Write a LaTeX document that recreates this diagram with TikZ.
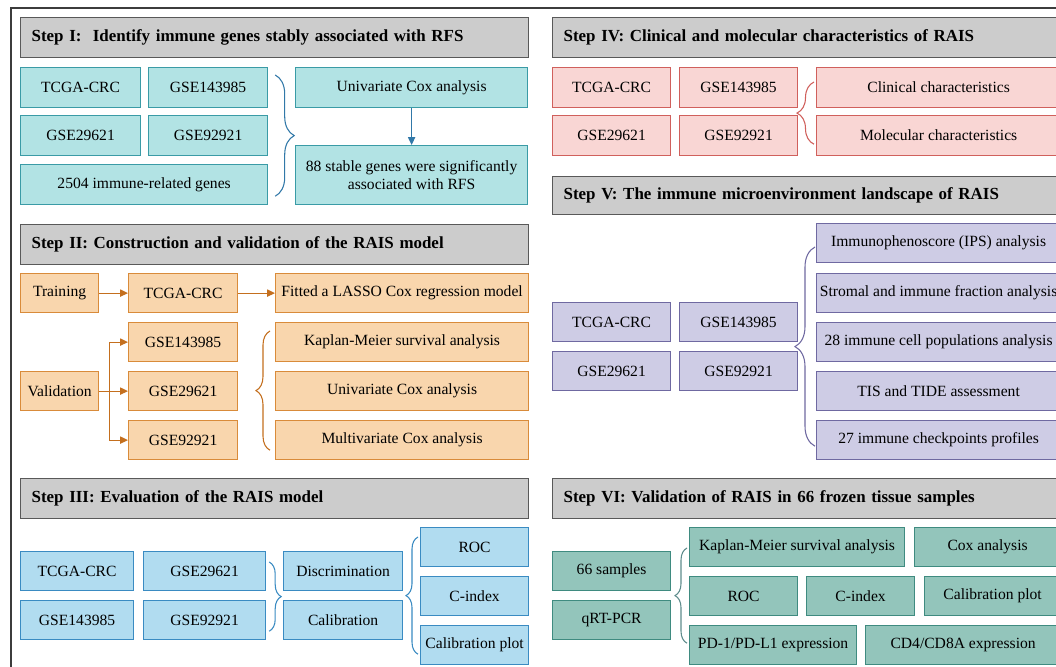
\documentclass[tikz,border=0pt]{standalone}
\usepackage{fontspec}
\setmainfont{Liberation Serif}
\usepackage{tikz}
\usetikzlibrary{arrows.meta, calc, decorations.pathreplacing}
\definecolor{hdfill}{HTML}{CCCCCC}
\definecolor{hdline}{HTML}{595959}
\definecolor{frameline}{HTML}{3C3C3C}
\definecolor{tealfill}{HTML}{B2E3E4}
\definecolor{tealline}{HTML}{3A9BA6}
\definecolor{tealarrow}{HTML}{3178A8}
\definecolor{orfill}{HTML}{F9D6AD}
\definecolor{orline}{HTML}{D98B3A}
\definecolor{orarrow}{HTML}{C46F1E}
\definecolor{bluefill}{HTML}{B1DCF0}
\definecolor{blueline}{HTML}{3A8BC2}
\definecolor{pinkfill}{HTML}{F9D6D4}
\definecolor{pinkline}{HTML}{D0605C}
\definecolor{lavfill}{HTML}{CECCE5}
\definecolor{lavline}{HTML}{6F69A1}
\definecolor{greenfill}{HTML}{93C5BB}
\definecolor{greenline}{HTML}{3F8B80}
\definecolor{greenbrace}{HTML}{5E8C8C}
\newcommand{\cell}[7]{\node[#1, anchor=north west, minimum width={(#5-#3)*0.75pt}, minimum height={(#6-#4)*0.75pt}] (#2) at (#3,#4) {#7};}
\tikzset{
  hd/.style={draw=hdline, fill=hdfill, line width=1pt, anchor=north west, inner xsep=8.25pt,
    text width=364.5pt, align=left, minimum height=30pt, font=\bfseries\fontsize{12.7}{15}\selectfont},
  cellbox/.style={draw, line width=0.9pt, inner sep=0pt, align=center, font=\fontsize{11.7}{13.8}\selectfont},
  cellI/.style={cellbox, draw=tealline, fill=tealfill},
  cellII/.style={cellbox, draw=orline, fill=orfill},
  cellIII/.style={cellbox, draw=blueline, fill=bluefill},
  cellIV/.style={cellbox, draw=pinkline, fill=pinkfill},
  cellV/.style={cellbox, draw=lavline, fill=lavfill},
  cellVI/.style={cellbox, draw=greenline, fill=greenfill},
  brc/.style 2 args={decorate, decoration={brace, amplitude=#1*0.75pt}, draw=#2, line width=0.8pt},
  arr/.style={-{Triangle[length=6pt, width=5.5pt]}, line width=0.9pt}
}
\begin{document}
\begin{tikzpicture}[x=0.75pt, y=-0.75pt]
\useasboundingbox (0,0) rectangle (1056,667);
\clip (0,0) rectangle (1056,667);
\fill[white] (0,0) rectangle (1056,667);
\draw[frameline, line width=1pt] (11,8) rectangle (1090,700);

% Step I
\node[hd] (hdI) at (20,17) {Step I:\ \ Identify immune genes stably associated with RFS};
\cell{cellI}{i_tcga}{20}{67}{140}{107}{TCGA-CRC}
\cell{cellI}{i_g143}{148}{67}{267}{107}{GSE143985}
\cell{cellI}{i_g296}{20}{115}{140}{155}{GSE29621}
\cell{cellI}{i_g929}{148}{115}{267}{155}{GSE92921}
\cell{cellI}{i_genes}{20}{164}{267}{204}{2504 immune-related genes}
\cell{cellI}{i_cox}{295}{67}{527}{107}{Univariate Cox analysis}
\cell{cellI}{i_stable}{295}{145}{527}{204}{88 stable genes were significantly\\associated with RFS}
\draw[brc={19}{tealarrow}] ($(i_g143.north east)+(7,8)$) -- ($(i_genes.south east)+(7,-9)$);
\draw[arr, tealarrow] (i_cox.south) -- (i_stable.north);

% Step II
\node[hd] (hdII) at (20,224) {Step II: Construction and validation of the RAIS model};
\cell{cellII}{ii_train}{20}{273}{98}{312}{Training}
\cell{cellII}{ii_tcga}{128}{273}{237}{312}{TCGA-CRC}
\cell{cellII}{ii_lasso}{275}{273}{528}{312}{Fitted a LASSO Cox regression model}
\cell{cellII}{ii_valid}{20}{371}{98}{410}{Validation}
\cell{cellII}{ii_g143}{128}{322}{237}{361}{GSE143985}
\cell{cellII}{ii_g296}{128}{371}{237}{410}{GSE29621}
\cell{cellII}{ii_g929}{128}{420}{237}{459}{GSE92921}
\cell{cellII}{ii_km}{275}{322}{528}{361}{Kaplan-Meier survival analysis}
\cell{cellII}{ii_cox}{275}{371}{528}{410}{Univariate Cox analysis}
\cell{cellII}{ii_mcox}{275}{420}{528}{459}{Multivariate Cox analysis}
\coordinate (ii_fork) at ($(ii_valid.east)+(10,0)$);
\draw[arr, orarrow] (ii_train) -- (ii_tcga);
\draw[arr, orarrow] (ii_tcga) -- (ii_lasso);
\draw[arr, orarrow] (ii_valid) -- (ii_g296);
\draw[arr, orarrow] (ii_fork) |- (ii_g143);
\draw[arr, orarrow] (ii_fork) |- (ii_g929);
\draw[brc={14}{orarrow}] ($(ii_mcox.south west)+(-5,-10)$) -- ($(ii_km.north west)+(-5,9)$);

% Step III
\node[hd] (hdIII) at (20,478) {Step III: Evaluation of the RAIS model};
\cell{cellIII}{iii_tcga}{20}{551}{133}{590}{TCGA-CRC}
\cell{cellIII}{iii_g296}{143}{551}{265}{590}{GSE29621}
\cell{cellIII}{iii_g143}{20}{600}{133}{639}{GSE143985}
\cell{cellIII}{iii_g929}{143}{600}{265}{639}{GSE92921}
\cell{cellIII}{iii_disc}{283}{551}{402}{590}{Discrimination}
\cell{cellIII}{iii_cal}{283}{600}{402}{639}{Calibration}
\cell{cellIII}{iii_roc}{420}{527}{528}{566}{ROC}
\cell{cellIII}{iii_cidx}{420}{576}{528}{615}{C-index}
\cell{cellIII}{iii_cplot}{420}{625}{528}{664}{Calibration plot}
\draw[brc={12}{blueline}] ($(iii_g296.north east)+(3,11)$) -- ($(iii_g929.south east)+(3,-9)$);
\draw[brc={12}{blueline}] ($(iii_cplot.south west)+(-2,-11)$) -- ($(iii_roc.north west)+(-2,10)$);

% Step IV
\node[hd] (hdIV) at (552,17) {Step IV: Clinical and molecular characteristics of RAIS};
\cell{cellIV}{iv_tcga}{552}{67}{670}{107}{TCGA-CRC}
\cell{cellIV}{iv_g143}{679}{67}{797}{107}{GSE143985}
\cell{cellIV}{iv_g296}{552}{115}{670}{155}{GSE29621}
\cell{cellIV}{iv_g929}{679}{115}{797}{155}{GSE92921}
\cell{cellIV}{iv_clin}{816}{67}{1060}{107}{Clinical characteristics}
\cell{cellIV}{iv_mol}{816}{115}{1060}{155}{Molecular characteristics}
\draw[brc={17}{pinkline}] ($(iv_mol.south west)+(-2,-12)$) -- ($(iv_clin.north west)+(-2,15)$);

% Step V
\node[hd, minimum height=28.5pt] (hdV) at (552,176) {Step V: The immune microenvironment landscape of RAIS};
\cell{cellV}{v_tcga}{552}{302}{670}{341}{TCGA-CRC}
\cell{cellV}{v_g143}{679}{302}{797}{341}{GSE143985}
\cell{cellV}{v_g296}{552}{351}{670}{390}{GSE29621}
\cell{cellV}{v_g929}{679}{351}{797}{390}{GSE92921}
\foreach \n/\t/\y in {1/Immunophenoscore (IPS) analysis/223, 2/Stromal and immune fraction analysis/273,
  3/28 immune cell populations analysis/322, 4/TIS and TIDE assessment/371, 5/27 immune checkpoints profiles/420}{
  \cell{cellV}{v_r\n}{816}{\y}{1060}{\y+39}{\t}
}
\draw[brc={20}{lavline}] ($(v_r5.south west)+(-1,-14)$) -- ($(v_r1.north west)+(-1,24)$);

% Step VI
\node[hd] (hdVI) at (552,478) {Step VI: Validation of RAIS in 66 frozen tissue samples};
\cell{cellVI}{vi_samp}{552}{551}{670}{590}{66 samples}
\cell{cellVI}{vi_pcr}{552}{600}{670}{639}{qRT-PCR}
\cell{cellVI}{vi_km}{689}{527}{904}{566}{Kaplan-Meier survival analysis}
\cell{cellVI}{vi_cox}{914}{527}{1060}{566}{Cox analysis}
\cell{cellVI}{vi_roc}{689}{576}{797}{615}{ROC}
\cell{cellVI}{vi_cidx}{806}{576}{914}{615}{C-index}
\cell{cellVI}{vi_cplot}{924}{576}{1060}{615}{Calibration plot}
\cell{cellVI}{vi_pd}{689}{625}{856}{664}{PD-1/PD-L1 expression}
\cell{cellVI}{vi_cd}{865}{625}{1060}{664}{CD4/CD8A expression}
\draw[brc={12}{greenbrace}] ($(vi_pd.south west)+(-2,-22)$) -- ($(vi_km.north west)+(-2,21)$);
\end{tikzpicture}
\end{document}
